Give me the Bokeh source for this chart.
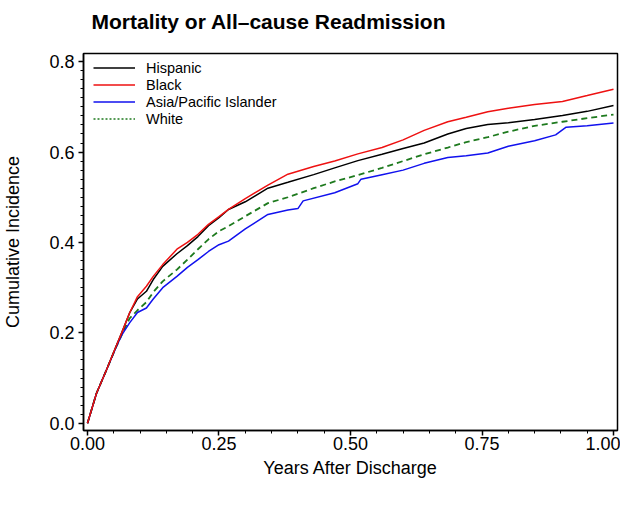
from bokeh.plotting import figure
from bokeh.embed import file_html
from bokeh.resources import INLINE
from bokeh.models import Range1d, FixedTicker, PrintfTickFormatter, Legend, LegendItem, Title

# ---- data ----
t = [0.0, 0.017, 0.036, 0.055, 0.065, 0.08, 0.095, 0.112, 0.125, 0.143, 0.17, 0.19,
     0.21, 0.23, 0.25, 0.268, 0.30, 0.343, 0.381, 0.43, 0.47, 0.514, 0.56, 0.60,
     0.64, 0.685, 0.72, 0.761, 0.80, 0.85, 0.903, 0.95, 1.0]
hispanic = [0.0, 0.066, 0.118, 0.172, 0.20, 0.244, 0.275, 0.292, 0.318, 0.347, 0.375, 0.393,
            0.413, 0.437, 0.455, 0.473, 0.49, 0.52, 0.533, 0.55, 0.565, 0.581, 0.595, 0.608,
            0.62, 0.64, 0.652, 0.661, 0.665, 0.672, 0.681, 0.69, 0.703]
black = [0.0, 0.066, 0.118, 0.172, 0.20, 0.244, 0.28, 0.303, 0.325, 0.351, 0.385, 0.40,
         0.418, 0.44, 0.457, 0.473, 0.497, 0.527, 0.551, 0.568, 0.58, 0.596, 0.61, 0.627,
         0.648, 0.667, 0.677, 0.689, 0.697, 0.705, 0.712, 0.725, 0.739]
white = [0.0, 0.066, 0.118, 0.17, 0.195, 0.232, 0.25, 0.268, 0.29, 0.314, 0.34, 0.362,
         0.385, 0.407, 0.425, 0.436, 0.458, 0.487, 0.50, 0.52, 0.535, 0.549, 0.565, 0.58,
         0.595, 0.61, 0.622, 0.633, 0.645, 0.658, 0.667, 0.675, 0.683]
t_asia = [0.0, 0.017, 0.036, 0.055, 0.065, 0.08, 0.095, 0.112, 0.125, 0.143, 0.17, 0.19,
          0.21, 0.23, 0.25, 0.268, 0.30, 0.343, 0.381, 0.40, 0.41, 0.47, 0.514, 0.52,
          0.56, 0.60, 0.64, 0.685, 0.72, 0.761, 0.80, 0.85, 0.89, 0.91, 0.95, 1.0]
asia = [0.0, 0.066, 0.118, 0.17, 0.195, 0.222, 0.245, 0.255, 0.275, 0.30, 0.325, 0.345,
        0.362, 0.38, 0.395, 0.403, 0.43, 0.462, 0.472, 0.475, 0.492, 0.51, 0.53, 0.54,
        0.55, 0.56, 0.575, 0.588, 0.592, 0.598, 0.613, 0.625, 0.638, 0.655, 0.658, 0.664]
series_names = ["Hispanic", "Black", "Asia/Pacific Islander", "White"]
x_ticks = [0.0, 0.25, 0.5, 0.75, 1.0]
y_ticks = [0.0, 0.2, 0.4, 0.6, 0.8]
title_text = "Mortality or All\u2013cause Readmission"

FONT = "Liberation Sans"
RED = "#ee1111"
BLUE = "#1111ee"
GREEN = "#1e7a1e"

p = figure(width=620, height=489, output_backend="svg", toolbar_location=None,
           x_range=Range1d(-0.0076, 1.0076), y_range=Range1d(-0.016, 0.818),
           min_border_left=82, min_border_right=3, min_border_top=53, min_border_bottom=59)
p.title.text = ""
p.title.visible = False

# spacer panel between frame and title, then the title itself (outermost)
p.add_layout(Title(text=" ", text_font_size="1px", standoff=18), "above")
p.add_layout(Title(text=title_text, text_font=FONT, text_font_size="21px",
                   text_font_style="bold", text_color="black", standoff=0,
                   offset=8, align="left", vertical_align="bottom"), "above")

p.grid.visible = False
p.outline_line_color = "black"
p.outline_line_width = 1.5

for ax in (p.xaxis[0], p.yaxis[0]):
    ax.axis_line_width = 1.5
    ax.major_tick_line_width = 1.5
    ax.minor_tick_line_width = 1
    ax.major_tick_out = 5
    ax.major_tick_in = 0
    ax.minor_tick_out = 3
    ax.minor_tick_in = 0
    ax.major_label_text_font = FONT
    ax.major_label_text_font_size = "18px"
    ax.major_label_text_color = "black"
    ax.axis_label_text_font = FONT
    ax.axis_label_text_font_size = "18px"
    ax.axis_label_text_font_style = "normal"
    ax.axis_label_text_color = "black"

p.xaxis.ticker = FixedTicker(ticks=x_ticks, minor_ticks=[i * 0.05 for i in range(21)])
p.yaxis.ticker = FixedTicker(ticks=y_ticks, minor_ticks=[i * 0.02 for i in range(41)])
p.xaxis.formatter = PrintfTickFormatter(format="%.2f")
p.yaxis.formatter = PrintfTickFormatter(format="%.1f")
p.xaxis.axis_label = "Years After Discharge"
p.yaxis.axis_label = "Cumulative Incidence"
p.xaxis.major_label_standoff = 1
p.xaxis.axis_label_standoff = 5
p.yaxis.major_label_standoff = 4
p.yaxis.axis_label_standoff = 23

rw = p.line(t, white, line_color=GREEN, line_width=1.8, line_dash="6 4")
ra = p.line(t_asia, asia, line_color=BLUE, line_width=1.5)
rh = p.line(t, hispanic, line_color="black", line_width=1.5)
rb = p.line(t, black, line_color=RED, line_width=1.5)

# legend proxies (legend shows dotted style for White)
lh = p.line([0], [0], line_color="black", line_width=1.5, visible=False)
lb = p.line([0], [0], line_color=RED, line_width=1.5, visible=False)
la = p.line([0], [0], line_color=BLUE, line_width=1.5, visible=False)
lw = p.line([0], [0], line_color=GREEN, line_width=1.5, line_dash="2 2", visible=False)

legend = Legend(items=[LegendItem(label=series_names[0], renderers=[lh]),
                       LegendItem(label=series_names[1], renderers=[lb]),
                       LegendItem(label=series_names[2], renderers=[la]),
                       LegendItem(label=series_names[3], renderers=[lw])],
                location=(10, 303), border_line_color=None, background_fill_alpha=0,
                label_text_font=FONT, label_text_font_size="14.5px", label_text_color="black",
                glyph_width=42, glyph_height=17, label_height=17, spacing=0,
                padding=5, margin=0, label_standoff=11)
p.add_layout(legend)

open("out.html", "w").write(file_html(p, INLINE))
